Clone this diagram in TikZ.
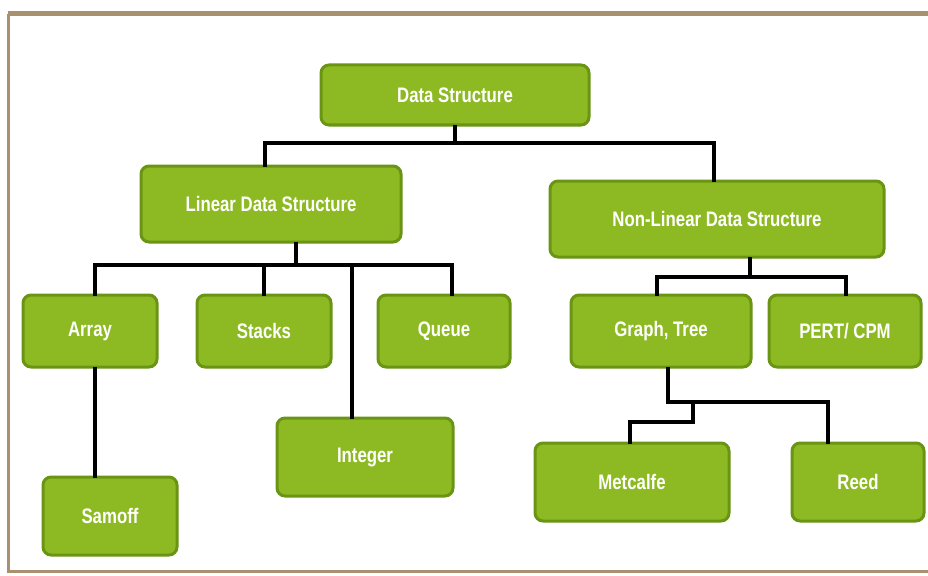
\documentclass[tikz,border=0pt]{standalone}
\usepackage{fontspec}
\setmainfont{Liberation Sans}[FakeStretch=0.8]
\definecolor{boxfill}{HTML}{8DBA22}
\definecolor{boxline}{HTML}{6A9414}
\definecolor{framec}{HTML}{A8916E}
\begin{document}
\begin{tikzpicture}[x=1pt,y=-1pt,
  box/.style={draw=boxline, fill=boxfill, line width=3pt, rounded corners=8pt,
    text=white, font=\bfseries\fontsize{21}{23}\selectfont, inner sep=0pt},
  conn/.style={draw=black, line width=4pt, line cap=rect}]
\useasboundingbox (0,0) rectangle (928,575);
\fill[white] (0,0) rectangle (928,575);
\draw[framec, line width=5pt] (8,14) -- (928,14);
\draw[framec, line width=3pt] (8,14) -- (8,571) -- (928,571);

% bus coordinates
\coordinate (bus0) at (0,143);
\coordinate (busL) at (0,265);
\coordinate (busN) at (0,277);
\coordinate (busG) at (0,402);
\coordinate (busM) at (0,422);
\coordinate (jm) at (693,402);

\node[box, minimum width=268pt, minimum height=60pt] (ds) at (455,95) {Data Structure};
\node[box, minimum width=260pt, minimum height=76pt] (lds) at (271,204) {Linear Data Structure};
\node[box, minimum width=334pt, minimum height=76pt] (nlds) at (717,219) {Non-Linear Data Structure};
\node[box, minimum width=134pt, minimum height=72pt] (arr) at (90,331) {Array};
\node[box, minimum width=134pt, minimum height=72pt] (stk) at (264,331) {Stacks};
\node[box, minimum width=132pt, minimum height=72pt] (que) at (444,331) {Queue};
\node[box, minimum width=176pt, minimum height=78pt] (int) at (365,457) {Integer};
\node[box, minimum width=134pt, minimum height=78pt] (sam) at (110,516) {Samoff};
\node[box, minimum width=180pt, minimum height=72pt] (gt) at (661,331) {Graph, Tree};
\node[box, minimum width=152pt, minimum height=72pt] (pert) at (845,331) {PERT/ CPM};
\node[box, minimum width=194pt, minimum height=78pt] (met) at (632,482) {Metcalfe};
\node[box, minimum width=132pt, minimum height=78pt] (reed) at (858,482) {Reed};

% Data Structure -> Linear / Non-Linear
\draw[conn] (ds.south) -- (ds.south |- bus0);
\draw[conn] ([xshift=-6pt]lds.north) |- (bus0 -| ds.south);
\draw[conn] ([xshift=-3pt]nlds.north) |- (bus0 -| ds.south);

% Linear -> children
\draw[conn] ([xshift=25pt]lds.south) -- ([xshift=25pt]lds.south |- busL);
\draw[conn] ([xshift=5pt]arr.north) |- ([xshift=8pt]que.north |- busL) -- ([xshift=8pt]que.north);
\draw[conn] (stk.north) -- (stk.north |- busL);
\draw[conn] ([xshift=-13pt]int.north) -- ([xshift=-13pt]int.north |- busL);
\draw[conn] ([xshift=5pt]arr.south) -- ([xshift=5pt]arr.south |- sam.north);

% Non-Linear -> children
\draw[conn] ([xshift=33pt]nlds.south) -- ([xshift=33pt]nlds.south |- busN);
\draw[conn] ([xshift=-4pt]gt.north) |- ([xshift=1pt]pert.north |- busN) -- ([xshift=1pt]pert.north);

% Graph, Tree -> Metcalfe / Reed
\draw[conn] ([xshift=7pt]gt.south) |- ([xshift=-30pt]reed.north |- busG) -- ([xshift=-30pt]reed.north);
\draw[conn] (jm) |- ([xshift=-2pt]met.north |- busM) -- ([xshift=-2pt]met.north);
\end{tikzpicture}
\end{document}
